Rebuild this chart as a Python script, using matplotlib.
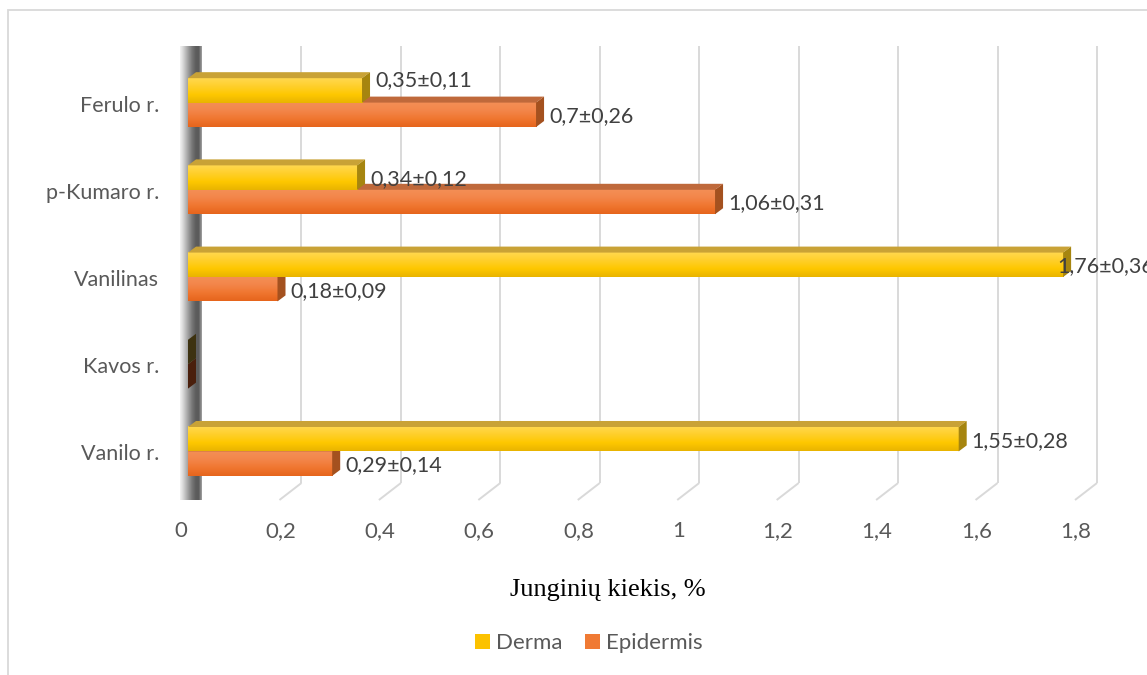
import matplotlib
matplotlib.use("Agg")
import matplotlib.pyplot as plt
import numpy as np
from matplotlib.colors import LinearSegmentedColormap
from matplotlib.patches import Patch, Polygon, Rectangle

categories = ["Vanilo r.", "Kavos r.", "Vanilinas", "p-Kumaro r.", "Ferulo r."]
derma = [1.55, 0.0, 1.76, 0.34, 0.35]
derma_sd = [0.28, 0.0, 0.36, 0.12, 0.11]
epidermis = [0.29, 0.0, 0.18, 1.06, 0.70]
epidermis_sd = [0.14, 0.0, 0.09, 0.31, 0.26]
x_ticks = [0, 0.2, 0.4, 0.6, 0.8, 1.0, 1.2, 1.4, 1.6, 1.8]
x_title = "Junginių kiekis, %"
series_names = ["Derma", "Epidermis"]

plt.rcParams["font.family"] = ["Lato", "DejaVu Sans"]

W, H = 1147, 675
XMAX = 1.8
fig = plt.figure(figsize=(W / 100, H / 100), dpi=100)
ax = fig.add_axes([188 / W, 180 / H, 895 / W, 436 / H])
ax.set_xlim(0, XMAX)
ax.set_ylim(-0.5, len(categories) - 0.5)
ax.set_axis_off()

# data units per pixel, used for the fake 3D depth
bb = ax.get_position()
ux = XMAX / (bb.width * W)
uy = len(categories) / (bb.height * H)

BAR_H = 0.28
bar_dx, bar_dy = 8 * ux, 6 * uy          # depth of the bars
wall_dx, wall_dy = 22 * ux, 17 * uy      # depth of walls / floor
back_shift = 14 * ux                     # back wall relative to bar fronts
wall_top = len(categories) - 0.5 + 13 * uy
floor_back = -0.5 + 12 * uy
floor_front = floor_back - wall_dy

grid_col = "#d9d9d9"
text_col = "#595959"

# back wall gridlines and floor lines
for v in x_ticks[1:]:
    xb = v + back_shift
    ax.plot([xb, xb], [floor_back, wall_top], color=grid_col, lw=1.4,
            clip_on=False, zorder=1, solid_capstyle="butt")
    ax.plot([xb, xb - wall_dx], [floor_back, floor_front], color=grid_col,
            lw=1.4, clip_on=False, zorder=1, solid_capstyle="butt")

# left side wall, light at the front edge and darker towards the back
xb0 = back_shift
xf0 = xb0 - wall_dx
wall = Polygon([(xf0, wall_top - wall_dy), (xb0, wall_top), (xb0, floor_back),
                (xf0, floor_front)], closed=True, transform=ax.transData,
               facecolor="none", edgecolor="none")
ax.add_patch(wall)
wall_cmap = LinearSegmentedColormap.from_list(
    "wall", ["#f2f2f2", "#d6d6d6", "#b4b4b4", "#929292", "#747474",
             "#5e5e5e", "#5a5a5a", "#a0a0a0"])
im = ax.imshow(np.linspace(0, 1, 64)[None, :], cmap=wall_cmap, aspect="auto",
               extent=[xf0, xb0, floor_front, wall_top], zorder=2,
               clip_on=False)
im.set_clip_path(wall)

cm_yellow = LinearSegmentedColormap.from_list(
    "y", ["#e9b400", "#fec800", "#ffcf2a", "#ffd84f"])
cm_orange = LinearSegmentedColormap.from_list(
    "o", ["#e6651c", "#f07630", "#f3864a", "#f48f56"])
grad = np.linspace(0, 1, 64)[:, None]

styles = {
    "Derma": dict(cmap=cm_yellow, top="#c9a236", side="#a6850f",
                  zero_side="#3d3210", offset=0.0),
    "Epidermis": dict(cmap=cm_orange, top="#bf693b", side="#a4511f",
                      zero_side="#4a1f0c", offset=-BAR_H),
}


def draw_bar(v, y0, st, z):
    y1 = y0 + BAR_H
    if v > 0:
        ax.imshow(grad, cmap=st["cmap"], origin="lower", aspect="auto",
                  extent=[0, v, y0, y1], zorder=z)
        ax.add_patch(Polygon([(0, y1), (v, y1), (v + bar_dx, y1 + bar_dy),
                              (bar_dx, y1 + bar_dy)], closed=True,
                             facecolor=st["top"], edgecolor="none", zorder=z))
    side_col = st["side"] if v > 0 else st["zero_side"]
    ax.add_patch(Polygon([(v, y0), (v, y1), (v + bar_dx, y1 + bar_dy),
                          (v + bar_dx, y0 + bar_dy)], closed=True,
                         facecolor=side_col, edgecolor="none", zorder=z))


# lower series first so the upper one sits in front of it
for i in range(len(categories)):
    draw_bar(epidermis[i], i + styles["Epidermis"]["offset"], styles["Epidermis"], 3)
    draw_bar(derma[i], i + styles["Derma"]["offset"], styles["Derma"], 4)


def fmt(x):
    return f"{x:g}".replace(".", ",")


# small manual nudges (pixels) for labels that would collide
nudges = {("Derma", "Ferulo r."): (0, 12), ("Derma", "Vanilinas"): (-19, 0)}

for name, vals, sds in [("Derma", derma, derma_sd),
                        ("Epidermis", epidermis, epidermis_sd)]:
    off = styles[name]["offset"]
    for i, (v, sd) in enumerate(zip(vals, sds)):
        if v == 0:
            continue
        ndx, ndy = nudges.get((name, categories[i]), (0, 0))
        ax.text(v + (13 + ndx) * ux, i + off + BAR_H / 2 + ndy * uy - 1.5 * uy,
                f"{fmt(v)}±{fmt(sd)}", ha="left", va="center", fontsize=15.5,
                color="#404040", zorder=6, clip_on=False)

# category labels
for i, c in enumerate(categories):
    ax.text(-29 * ux, i - 3 * uy, c, ha="right", va="center", fontsize=15.5,
            color=text_col, clip_on=False)

# tick labels on the front edge of the floor
for v in x_ticks:
    ax.text(v - 7 * ux, floor_front - 31 * uy, fmt(v), ha="center",
            va="center", fontsize=16, color=text_col, clip_on=False)

fig.text(608 / W, 1 - 590 / H, x_title, ha="center", va="center",
         fontsize=19, family=["Liberation Serif", "DejaVu Serif"],
         color="black")

handles = [Patch(facecolor="#fcc200", edgecolor="none"),
           Patch(facecolor="#f07a34", edgecolor="none")]
fig.legend(handles, series_names, loc="center", bbox_to_anchor=(589 / W, 1 - 643 / H),
           ncol=2, frameon=False, fontsize=16, handlelength=0.66,
           handleheight=0.66, handletextpad=0.3, columnspacing=1.0,
           labelcolor=text_col)

# outer chart border
fig.add_artist(Rectangle((8 / W, -0.05), 1.2, 1.05 - 10 / H, fill=False,
                         edgecolor="#d9d9d9", lw=1.3, transform=fig.transFigure))

ax.set_xlim(0, XMAX)
ax.set_ylim(-0.5, len(categories) - 0.5)
fig.savefig("out.png", dpi=100)
